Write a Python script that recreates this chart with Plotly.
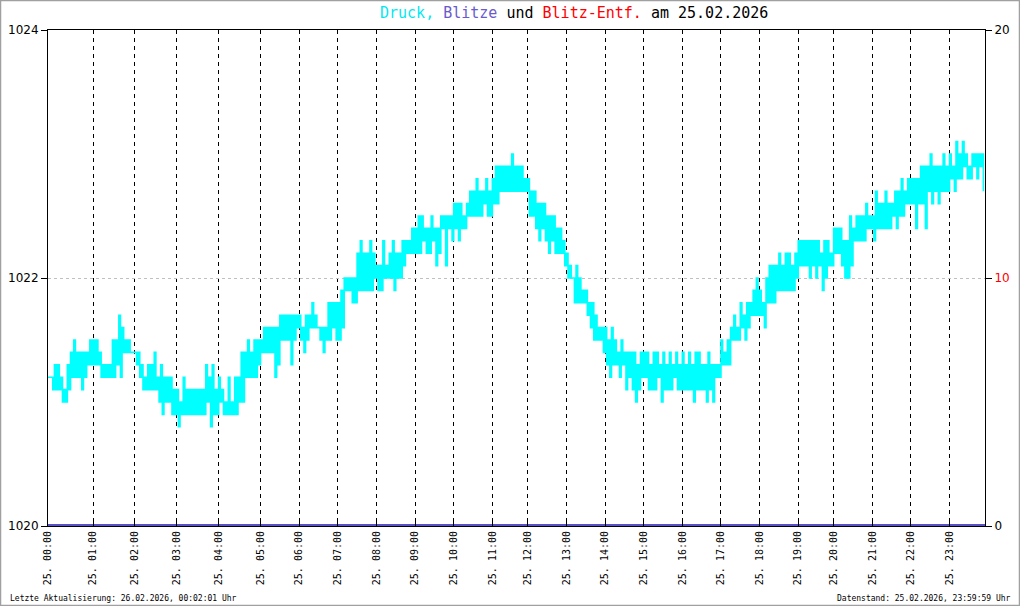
import plotly.graph_objects as go

# Luftdruck (hPa): je Stunde Abtastintervalle mit Maximal- und Minimalwert
hi00 = [1021.2, 1021.2, 1021.3, 1021.3, 1021.2, 1021.1, 1021.3, 1021.4, 1021.5, 1021.4, 1021.4, 1021.4, 1021.4, 1021.5]
lo00 = [1021.2, 1021.1, 1021.1, 1021.1, 1021.0, 1021.0, 1021.1, 1021.2, 1021.2, 1021.2, 1021.1, 1021.2, 1021.3, 1021.3]
hi01 = [1021.5, 1021.5, 1021.4, 1021.3, 1021.3, 1021.3, 1021.5, 1021.5, 1021.7, 1021.6, 1021.5, 1021.5, 1021.4]
lo01 = [1021.3, 1021.3, 1021.2, 1021.2, 1021.2, 1021.2, 1021.2, 1021.3, 1021.2, 1021.4, 1021.4, 1021.4, 1021.4]
hi02 = [1021.4, 1021.4, 1021.3, 1021.2, 1021.3, 1021.3, 1021.4, 1021.2, 1021.3, 1021.2, 1021.2, 1021.2, 1021.1]
lo02 = [1021.3, 1021.2, 1021.1, 1021.1, 1021.1, 1021.1, 1021.1, 1021.0, 1020.9, 1021.0, 1021.0, 1020.9, 1020.9]
hi03 = [1021.1, 1021.0, 1021.2, 1021.1, 1021.1, 1021.1, 1021.1, 1021.1, 1021.1, 1021.3, 1021.2, 1021.3, 1021.1]
lo03 = [1020.8, 1020.9, 1020.9, 1020.9, 1020.9, 1020.9, 1020.9, 1020.9, 1020.9, 1021.0, 1020.8, 1020.9, 1020.9]
hi04 = [1021.2, 1021.1, 1021.0, 1021.2, 1021.0, 1021.2, 1021.2, 1021.4, 1021.4, 1021.5, 1021.4, 1021.5, 1021.5]
lo04 = [1021.0, 1020.9, 1020.9, 1020.9, 1020.9, 1020.9, 1021.0, 1021.0, 1021.2, 1021.2, 1021.2, 1021.2, 1021.3]
hi05 = [1021.5, 1021.6, 1021.6, 1021.6, 1021.6, 1021.6, 1021.7, 1021.7, 1021.7, 1021.7, 1021.7, 1021.7]
lo05 = [1021.4, 1021.4, 1021.4, 1021.4, 1021.2, 1021.3, 1021.5, 1021.5, 1021.5, 1021.3, 1021.5, 1021.6]
hi06 = [1021.7, 1021.6, 1021.7, 1021.7, 1021.8, 1021.7, 1021.6, 1021.6, 1021.6, 1021.8, 1021.8, 1021.8]
lo06 = [1021.5, 1021.4, 1021.5, 1021.6, 1021.6, 1021.6, 1021.5, 1021.4, 1021.5, 1021.5, 1021.6, 1021.5]
hi07 = [1021.8, 1021.9, 1022.0, 1022.0, 1022.0, 1022.0, 1022.2, 1022.3, 1022.2, 1022.2, 1022.3, 1022.2]
lo07 = [1021.5, 1021.6, 1021.9, 1021.9, 1021.8, 1021.8, 1021.9, 1021.9, 1021.9, 1021.9, 1021.9, 1022.0]
hi08 = [1022.1, 1022.1, 1022.3, 1022.1, 1022.2, 1022.3, 1022.2, 1022.2, 1022.3, 1022.3, 1022.3, 1022.4]
lo08 = [1021.9, 1021.9, 1022.0, 1022.0, 1022.0, 1021.9, 1022.0, 1022.0, 1022.1, 1022.2, 1022.2, 1022.2]
hi09 = [1022.4, 1022.5, 1022.5, 1022.4, 1022.4, 1022.5, 1022.4, 1022.4, 1022.5, 1022.5, 1022.5, 1022.5]
lo09 = [1022.2, 1022.2, 1022.3, 1022.2, 1022.2, 1022.3, 1022.1, 1022.2, 1022.4, 1022.1, 1022.4, 1022.3]
hi10 = [1022.6, 1022.6, 1022.6, 1022.5, 1022.6, 1022.7, 1022.7, 1022.8, 1022.7, 1022.7, 1022.8, 1022.7]
lo10 = [1022.4, 1022.3, 1022.4, 1022.4, 1022.5, 1022.5, 1022.5, 1022.5, 1022.5, 1022.6, 1022.5, 1022.5]
hi11 = [1022.8, 1022.9, 1022.9, 1022.9, 1022.9, 1022.9, 1023.0, 1022.9, 1022.9, 1022.9, 1022.8]
lo11 = [1022.6, 1022.6, 1022.7, 1022.7, 1022.7, 1022.7, 1022.7, 1022.7, 1022.7, 1022.7, 1022.7]
hi12 = [1022.8, 1022.7, 1022.7, 1022.6, 1022.6, 1022.6, 1022.5, 1022.5, 1022.5, 1022.4, 1022.4, 1022.3]
lo12 = [1022.5, 1022.5, 1022.4, 1022.3, 1022.4, 1022.3, 1022.2, 1022.3, 1022.2, 1022.2, 1022.2, 1022.1]
hi13 = [1022.2, 1022.1, 1022.0, 1022.1, 1022.0, 1021.9, 1021.9, 1021.8, 1021.8, 1021.7, 1021.6, 1021.6]
lo13 = [1022.0, 1022.0, 1021.8, 1021.8, 1021.8, 1021.8, 1021.7, 1021.6, 1021.5, 1021.5, 1021.5, 1021.4]
hi14 = [1021.6, 1021.5, 1021.6, 1021.5, 1021.4, 1021.5, 1021.4, 1021.4, 1021.4, 1021.4, 1021.3, 1021.4]
lo14 = [1021.3, 1021.2, 1021.3, 1021.3, 1021.2, 1021.3, 1021.1, 1021.2, 1021.1, 1021.0, 1021.1, 1021.2]
hi15 = [1021.4, 1021.4, 1021.3, 1021.4, 1021.4, 1021.3, 1021.4, 1021.3, 1021.4, 1021.3, 1021.4, 1021.3]
lo15 = [1021.2, 1021.1, 1021.1, 1021.1, 1021.2, 1021.0, 1021.1, 1021.1, 1021.1, 1021.2, 1021.1, 1021.1]
hi16 = [1021.4, 1021.3, 1021.4, 1021.3, 1021.4, 1021.4, 1021.3, 1021.3, 1021.4, 1021.3, 1021.3, 1021.3]
lo16 = [1021.1, 1021.1, 1021.1, 1021.0, 1021.1, 1021.1, 1021.1, 1021.0, 1021.1, 1021.0, 1021.2, 1021.2]
hi17 = [1021.5, 1021.4, 1021.5, 1021.6, 1021.7, 1021.6, 1021.8, 1021.7, 1021.8, 1021.8, 1021.9, 1022.0]
lo17 = [1021.3, 1021.3, 1021.3, 1021.5, 1021.5, 1021.5, 1021.6, 1021.5, 1021.6, 1021.7, 1021.7, 1021.7]
hi18 = [1021.9, 1021.8, 1022.0, 1022.1, 1022.1, 1022.1, 1022.2, 1022.1, 1022.2, 1022.2, 1022.1, 1022.2]
lo18 = [1021.7, 1021.6, 1021.8, 1021.8, 1021.8, 1021.9, 1021.9, 1021.9, 1021.9, 1021.9, 1021.9, 1022.0]
hi19 = [1022.3, 1022.3, 1022.3, 1022.3, 1022.3, 1022.3, 1022.3, 1022.2, 1022.3, 1022.3, 1022.2]
lo19 = [1022.1, 1022.1, 1022.1, 1022.0, 1022.1, 1022.0, 1022.1, 1021.9, 1022.0, 1022.1, 1022.1]
hi20 = [1022.4, 1022.4, 1022.4, 1022.3, 1022.3, 1022.5, 1022.4, 1022.5, 1022.5, 1022.5, 1022.6, 1022.5]
lo20 = [1022.2, 1022.2, 1022.1, 1022.0, 1022.0, 1022.1, 1022.3, 1022.3, 1022.3, 1022.3, 1022.4, 1022.4]
hi21 = [1022.5, 1022.7, 1022.6, 1022.6, 1022.7, 1022.6, 1022.6, 1022.7, 1022.7, 1022.8, 1022.7, 1022.8]
lo21 = [1022.3, 1022.4, 1022.4, 1022.4, 1022.4, 1022.4, 1022.5, 1022.4, 1022.5, 1022.5, 1022.6, 1022.6]
hi22 = [1022.8, 1022.8, 1022.8, 1022.9, 1022.9, 1022.9, 1023.0, 1022.9, 1022.9, 1022.9, 1023.0, 1022.9]
lo22 = [1022.6, 1022.4, 1022.6, 1022.6, 1022.4, 1022.7, 1022.6, 1022.7, 1022.6, 1022.7, 1022.7, 1022.7]
hi23 = [1023.0, 1022.9, 1023.1, 1023.0, 1023.1, 1023.0, 1022.9, 1023.0, 1023.0, 1023.0, 1023.0]
lo23 = [1022.8, 1022.7, 1022.8, 1022.8, 1022.9, 1022.8, 1022.8, 1022.9, 1022.8, 1022.9, 1022.7]

# Blitze je Stunde
blitze = [0, 0, 0, 0, 0, 0, 0, 0, 0, 0, 0, 0, 0, 0, 0, 0, 0, 0, 0, 0, 0, 0, 0, 0]

stunden_labels = ["25. %02d:00" % h for h in range(24)]

hi_stunden = [hi00, hi01, hi02, hi03, hi04, hi05, hi06, hi07, hi08, hi09, hi10, hi11,
              hi12, hi13, hi14, hi15, hi16, hi17, hi18, hi19, hi20, hi21, hi22, hi23]
lo_stunden = [lo00, lo01, lo02, lo03, lo04, lo05, lo06, lo07, lo08, lo09, lo10, lo11,
              lo12, lo13, lo14, lo15, lo16, lo17, lo18, lo19, lo20, lo21, lo22, lo23]

xs, ys, stunden_start = [], [], []
n = 0
for his, los in zip(hi_stunden, lo_stunden):
    stunden_start.append(n)
    for h, l in zip(his, los):
        xs += [n, n + 0.5]
        ys += [h, l]
        n += 1
N = n

fig = go.Figure()
fig.add_trace(go.Scatter(
    x=xs, y=ys, mode="lines", line_shape="hv",
    line=dict(color="#00ffff", width=1.6), yaxis="y", showlegend=False,
))
fig.add_trace(go.Scatter(
    x=stunden_start + [N], y=blitze + [blitze[-1]], mode="lines", line_shape="hv",
    line=dict(color="#5a50c8", width=4), yaxis="y2", showlegend=False,
))

L, R, T, B = 48, 35, 30, 80
W, H = 1020, 606
pw, ph = W - L - R, H - T - B

fig.update_layout(
    width=W, height=H,
    margin=dict(l=L, r=R, t=T, b=B, autoexpand=False),
    paper_bgcolor="white", plot_bgcolor="white",
    font=dict(family="DejaVu Sans", size=12, color="black"),
    xaxis=dict(
        range=[0, N], tickvals=stunden_start, ticktext=stunden_labels,
        tickangle=-90, ticks="inside", ticklen=5, tickcolor="black",
        tickfont=dict(family="DejaVu Sans Mono", size=10),
        showgrid=True, gridcolor="black", griddash="4px,4px", gridwidth=1,
        showline=True, linecolor="black", linewidth=1, mirror=True,
        zeroline=False,
    ),
    yaxis=dict(
        range=[1020, 1024], tickvals=[1020, 1022, 1024], ticktext=["1020", "1022", "1024"],
        ticks="outside", ticklen=6, tickcolor="black",
        tickfont=dict(family="DejaVu Sans", size=12),
        showgrid=True, gridcolor="#c0c0c0", griddash="3px,3px", gridwidth=1,
        showline=True, linecolor="black", linewidth=1, zeroline=False,
    ),
    yaxis2=dict(
        overlaying="y", side="right", range=[0, 20], tickvals=[0, 10, 20],
        ticktext=["0", "<span style='color:red'>10</span>", "20"],
        ticks="outside", ticklen=6, tickcolor="black",
        tickfont=dict(family="DejaVu Sans", size=12),
        showgrid=False, showline=True, linecolor="black", linewidth=1, zeroline=False,
    ),
)

titel = ("<span style='color:#00e8f0'>Druck,</span> "
         "<span style='color:#6a5acd'>Blitze</span> und "
         "<span style='color:red'>Blitz-Entf.</span> am 25.02.2026")
fig.add_annotation(text=titel, xref="paper", yref="paper",
                   x=(574 - L) / pw, y=(H - B - 13) / ph, xanchor="center", yanchor="middle",
                   showarrow=False, font=dict(family="DejaVu Sans Mono", size=15, color="black"))
fig.add_annotation(text="Letzte Aktualisierung: 26.02.2026, 00:02:01 Uhr", xref="paper", yref="paper",
                   x=(8 - L) / pw, y=(H - B - 598) / ph, xanchor="left", yanchor="middle",
                   showarrow=False, font=dict(family="DejaVu Sans Mono", size=8, color="black"))
fig.add_annotation(text="Datenstand: 25.02.2026, 23:59:59 Uhr", xref="paper", yref="paper",
                   x=(1013 - L) / pw, y=(H - B - 598) / ph, xanchor="right", yanchor="middle",
                   showarrow=False, font=dict(family="DejaVu Sans Mono", size=8, color="black"))
fig.add_shape(type="rect", xref="paper", yref="paper",
              x0=(0.5 - L) / pw, x1=(W - 0.5 - L) / pw,
              y0=(H - B - (H - 0.5)) / ph, y1=(H - B - 0.5) / ph,
              line=dict(color="#a0a0a0", width=1.5), layer="below")

fig.write_html("out.html", config={"displayModeBar": False},
               post_script="document.body.style.margin='0px';document.body.style.overflow='hidden';")
